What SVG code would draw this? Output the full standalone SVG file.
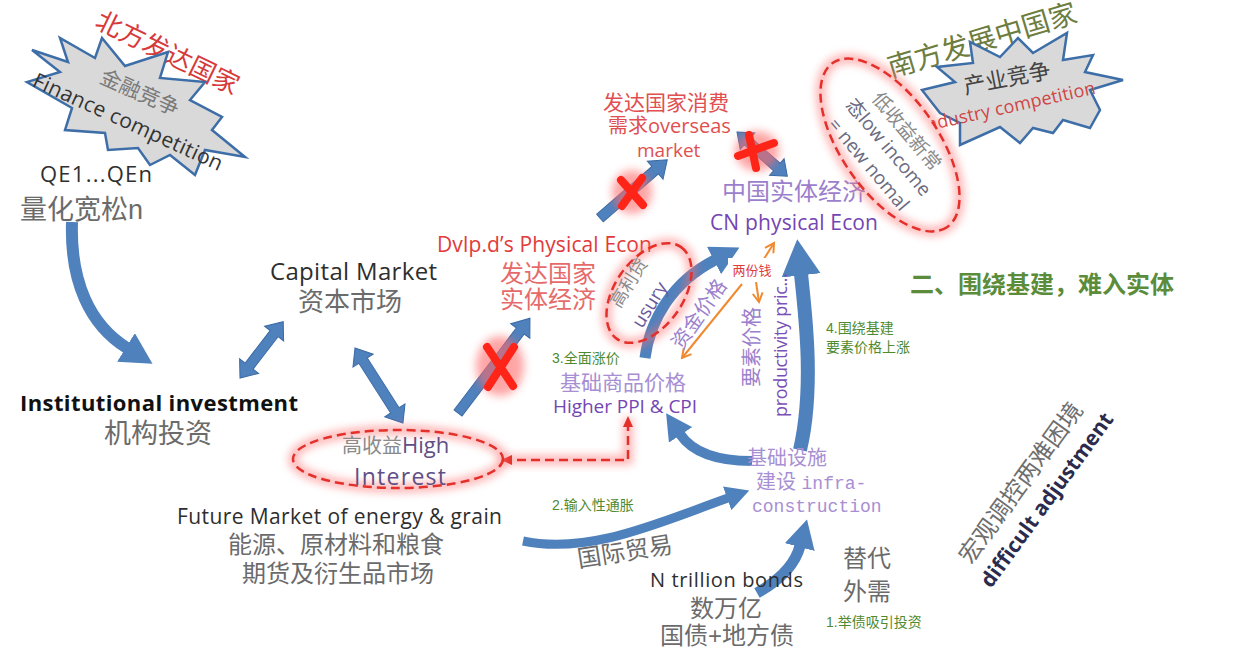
<svg xmlns="http://www.w3.org/2000/svg" width="1251" height="652" viewBox="0 0 1251 652">
<defs>
<style>
text{font-family:"Liberation Sans","Noto Sans CJK SC",sans-serif}
.en{font-family:"Open Sans","Liberation Sans","Noto Sans CJK SC",sans-serif}
.mono{font-family:"Liberation Mono","Noto Sans CJK SC",monospace}
.gray{fill:#6b6b6b}
.dark{fill:#2e2e2e}
.purple{fill:#7445b3}
.lpurple{fill:#a88fd3}
.green{fill:#4f8a2e}
.star{fill:#d9d9d9;stroke:#3d6ea8;stroke-width:2.5;stroke-linejoin:miter}
.barrow{fill:#4f81bd;stroke:#3a6aa5;stroke-width:1}
.carrow{fill:none;stroke:#4f81bd;stroke-linecap:butt}
.dash{fill:none;stroke:#e3302a;stroke-width:2.5;stroke-dasharray:9 5}
.glow{fill:none;stroke:#ff7070;stroke-width:9;opacity:.55;filter:url(#blur)}
.xmark{stroke:#ff2418;stroke-width:8;stroke-linecap:round;fill:none}
.xglow{fill:#ff6a6a;opacity:.6;filter:url(#blur)}
.orange{stroke:#f08a30;stroke-width:2;fill:none}
</style>
<filter id="blur" x="-50%" y="-50%" width="200%" height="200%"><feGaussianBlur stdDeviation="4"/></filter>
<marker id="ah" markerWidth="2.6" markerHeight="2.8" refX="0.1" refY="1.4" orient="auto" markerUnits="strokeWidth"><path d="M0,0 L2.6,1.4 L0,2.8 Z" fill="#4f81bd"/></marker>
<marker id="rah" markerWidth="11" markerHeight="10" refX="9" refY="5" orient="auto-start-reverse" markerUnits="userSpaceOnUse"><path d="M0,0 L11,5 L0,10 Z" fill="#e3302a"/></marker>
<marker id="oah" markerWidth="12" markerHeight="12" refX="10" refY="6" orient="auto" markerUnits="userSpaceOnUse"><path d="M1,1 L10,6 L1,11" fill="none" stroke="#f08a30" stroke-width="2"/></marker>
</defs>
<rect width="1251" height="652" fill="#ffffff"/>

<g id="connectors">
  <path class="carrow" stroke-width="12" marker-end="url(#ah)" d="M72,222 C70,282 90,325 127,348"/>
  <polygon class="barrow" transform="translate(240,378) rotate(-52.5)" points="0,0 15,-12 15,-5 56,-5 56,-12 71,0 56,12 56,5 15,5 15,12"/>
  <polygon class="barrow" transform="translate(355,348) rotate(57.4)" points="0,0 15,-12 15,-5 74,-5 74,-12 89,0 74,12 74,5 15,5 15,12"/>
  <polygon class="barrow" transform="translate(458,413) rotate(-52.8)" points="0,-5 103,-5 103,-12 119,0 103,12 103,5 0,5"/>
  <polygon class="barrow" transform="translate(600,218) rotate(-40.9)" points="0,-5 73,-5 73,-12 89,0 73,12 73,5 0,5"/>
  <polygon class="barrow" transform="translate(737,132) rotate(41.3)" points="0,0 14,-11 14,-5 53,-5 53,-11 67,0 53,11 53,5 14,5 14,11"/>
  <path class="carrow" stroke-width="11" marker-end="url(#ah)" d="M645,358 C650,320 672,282 715,260"/>
  <path class="carrow" stroke-width="14" marker-end="url(#ah)" d="M800,450 C814,390 806,320 801,274"/>
  <path class="carrow" stroke-width="10" marker-end="url(#ah)" d="M752,461 C715,461 692,452 680,434"/>
  <path class="carrow" stroke-width="9" marker-end="url(#ah)" d="M523,541 C590,555 660,522 728,498"/>
  <path class="carrow" stroke-width="11" marker-end="url(#ah)" d="M757,593 C780,580 795,565 800,546"/>
  <path class="glow" d="M503,460 L628,460 L628,418"/>
  <path class="dash" marker-start="url(#rah)" marker-end="url(#rah)" d="M503,460 L628,460 L628,418"/>
  <path class="orange" marker-end="url(#oah)" d="M762,262 L774,243"/>
  <path class="orange" marker-end="url(#oah)" d="M742,284 L682,358"/>
  <path class="orange" marker-end="url(#oah)" d="M756,282 L759,302"/>
  <g id="xmarks">
    <ellipse class="xglow" cx="500" cy="366" rx="24" ry="30"/>
    <path class="xmark" d="M487,347 L513,386 M514,347 L488,387"/>
    <ellipse class="xglow" cx="632" cy="192" rx="20" ry="22"/>
    <path class="xmark" d="M621,180 L643,205 M642,178 L622,206"/>
    <ellipse class="xglow" cx="757" cy="151" rx="22" ry="20"/>
    <path class="xmark" d="M749,135 L756,168 M738,156 L774,143"/>
  </g>
  <rect x="728" y="258" width="48" height="24" fill="#ffffff"/>
  <text x="752" y="275" text-anchor="middle" font-size="13" fill="#e23a3a">两份钱</text>
</g>

<g id="north">
  <text transform="translate(168,52) rotate(26)" y="10" text-anchor="middle" font-size="26" fill="#d63b3b">北方发达国家</text>
  <polygon class="star" points="32,50 68,62 60,38 95,58 102,38 125,66 168,52 160,78 205,82 190,100 222,117 212,130 245,157 205,150 195,175 170,155 150,165 138,148 108,150 105,133 65,130 72,108 27,82 60,72"/>
  <text transform="translate(140,92) rotate(24)" y="8" text-anchor="middle" font-size="21" fill="#7a7a7a">金融竞争</text>
  <text class="en" transform="translate(128,122) rotate(24.5)" y="7" text-anchor="middle" font-size="21" fill="#333" textLength="206">Finance competition</text>
</g>

<g id="qe">
  <text class="en dark" x="40" y="182" font-size="22" textLength="112">QE1...QEn</text>
  <text x="20" y="219" font-size="27" class="gray">量化宽松n</text>
</g>

<g id="capital-market">
  <text class="en dark" x="270" y="280" font-size="24" textLength="167">Capital Market</text>
  <text x="298" y="311" font-size="26" class="gray">资本市场</text>
</g>

<g id="institutional">
  <text class="en" x="20" y="411" font-size="22" font-weight="bold" fill="#111" textLength="278">Institutional investment</text>
  <text x="104" y="443" font-size="27" class="gray">机构投资</text>
</g>

<g id="high-interest">
  <ellipse class="glow" cx="398" cy="459" rx="105" ry="29"/>
  <ellipse class="dash" cx="398" cy="459" rx="105" ry="29"/>
  <text x="342" y="453" font-size="20" fill="#8a8a8a">高收益<tspan class="en" fill="#5e4f86" font-size="22">High</tspan></text>
  <text class="en" x="354" y="485" font-size="23" fill="#5e4f86" textLength="92">Interest</text>
</g>

<g id="future-market">
  <text class="en dark" x="177" y="524" font-size="21" textLength="325">Future Market of energy &amp; grain</text>
  <text x="228" y="553" font-size="24" class="gray">能源、原材料和粮食</text>
  <text x="242" y="582" font-size="24" class="gray">期货及衍生品市场</text>
</g>

<g id="trade">
  <text transform="translate(625,552) rotate(-9)" y="8" text-anchor="middle" font-size="24" class="gray">国际贸易</text>
  <text x="552" y="510" font-size="14" class="green">2.输入性通胀</text>
</g>

<g id="bonds">
  <text class="en dark" x="650" y="587" font-size="20" textLength="153">N trillion bonds</text>
  <text x="690" y="617" font-size="24" class="gray">数万亿</text>
  <text x="660" y="644" font-size="24" class="gray">国债+地方债</text>
</g>

<g id="substitute">
  <text x="843" y="567" font-size="24" class="gray">替代</text>
  <text x="843" y="600" font-size="24" class="gray">外需</text>
  <text x="826" y="627" font-size="14" class="green">1.举债吸引投资</text>
</g>

<g id="infrastructure">
  <text x="747" y="465" font-size="20" class="lpurple">基础设施</text>
  <text x="756" y="489" font-size="20" class="lpurple">建设 <tspan class="mono" font-size="18">infra-</tspan></text>
  <text x="752" y="512" font-size="18" class="mono lpurple">construction</text>
</g>

<g id="ppi">
  <text x="552" y="363" font-size="14" class="green">3.全面涨价</text>
  <text x="560" y="390" font-size="21" class="lpurple">基础商品价格</text>
  <text class="en purple" x="553" y="413" font-size="19" textLength="144">Higher PPI &amp; CPI</text>
</g>

<g id="developed-econ">
  <text class="en" x="437" y="252" font-size="21" fill="#e23a3a" textLength="215">Dvlp.d’s Physical Econ</text>
  <text x="500" y="282" font-size="24" fill="#e66a6a">发达国家</text>
  <text x="500" y="308" font-size="24" fill="#e66a6a">实体经济</text>
</g>

<g id="usury">
  <ellipse class="glow" cx="649" cy="293" rx="56" ry="34" transform="rotate(-55 649 293)"/>
  <ellipse class="dash" cx="649" cy="293" rx="56" ry="34" transform="rotate(-55 649 293)"/>
  <text transform="translate(629,283) rotate(-58)" y="6" text-anchor="middle" font-size="18" fill="#8a8a8a">高利贷</text>
  <text class="en" transform="translate(650,305) rotate(-58)" y="6" text-anchor="middle" font-size="19" fill="#6a5a9a">usury</text>
  <text transform="translate(699,314) rotate(-55)" y="7" text-anchor="middle" font-size="20" fill="#9b7fcc">资金价格</text>
</g>

<g id="overseas">
  <text x="603" y="110" font-size="21" fill="#e05050">发达国家消费</text>
  <text x="608" y="133" font-size="20" fill="#e05050">需求<tspan class="en">overseas</tspan></text>
  <text class="en" x="637" y="157" font-size="19" fill="#e05050">market</text>
</g>

<g id="cn-econ">
  <text x="722" y="200" font-size="24" fill="#9b7fcc">中国实体经济</text>
  <text class="en purple" x="710" y="230" font-size="21" textLength="168">CN physical Econ</text>
</g>

<g id="factor-price">
  <text transform="translate(752,347) rotate(-90)" y="7" text-anchor="middle" font-size="20" fill="#9b7fcc">要素价格</text>
  <text class="en" transform="translate(781,345) rotate(-90)" y="6" text-anchor="middle" font-size="18" fill="#7a4fb8" textLength="144">productivity pric...</text>
  <text x="826" y="333" font-size="14" class="green">4.围绕基建</text>
  <text x="826" y="352" font-size="14" class="green">要素价格上涨</text>
</g>

<g id="south">
  <text transform="translate(982,40) rotate(-16.7)" y="10" text-anchor="middle" font-size="28" fill="#6d7d3e">南方发展中国家</text>
  <polygon class="star" points="922,90 955,82 937,67 973,63 970,42 1000,57 1018,38 1033,53 1067,33 1063,60 1093,55 1085,72 1123,80 1090,90 1100,110 1090,128 1063,120 1053,133 1033,128 1020,143 1000,127 960,145 960,123 940,113"/>
  <text transform="translate(1007,78) rotate(-11)" y="8" text-anchor="middle" font-size="22" fill="#444">产业竞争</text>
  <text class="en" transform="translate(1008,107) rotate(-12.5)" y="6" text-anchor="middle" font-size="18" fill="#d04545" textLength="178">Industry competition</text>
</g>

<g id="new-normal">
  <ellipse cx="890" cy="145" rx="100" ry="48" transform="rotate(55 890 145)" fill="#ffffff"/>
  <ellipse class="glow" cx="890" cy="145" rx="100" ry="48" transform="rotate(55 890 145)"/>
  <ellipse class="dash" cx="890" cy="145" rx="100" ry="48" transform="rotate(55 890 145)"/>
  <text transform="translate(907,131) rotate(50)" y="7" text-anchor="middle" font-size="19" fill="#8a8a8a">低收益新常</text>
  <text transform="translate(889,147) rotate(50)" y="7" text-anchor="middle" font-size="19" fill="#6a6a80">态<tspan class="en">low income</tspan></text>
  <text class="en" transform="translate(869,164) rotate(50)" y="7" text-anchor="middle" font-size="19" fill="#6a6a80">= new nomal</text>
</g>

<g id="title">
  <text x="910" y="293" font-size="24" font-weight="bold" fill="#5b8c3a">二、围绕基建，难入实体</text>
</g>

<g id="dilemma">
  <text transform="translate(1021,483) rotate(-54)" y="8" text-anchor="middle" font-size="24" fill="#6e6e6e">宏观调控两难困境</text>
  <text class="en" transform="translate(1047,500) rotate(-54)" y="7" text-anchor="middle" font-size="21" font-weight="bold" fill="#2b2b4e">difficult adjustment</text>
</g>
</svg>
